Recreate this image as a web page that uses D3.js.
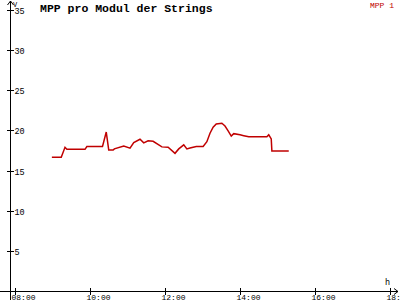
<!DOCTYPE html>
<html><head><meta charset="utf-8">
<script src="https://cdn.jsdelivr.net/npm/d3@7"></script>
<style>html,body{margin:0;padding:0;background:#fff;}svg{display:block;}</style>
</head><body>
<script>
const times = ["08:59","09:14","09:20","09:23","09:52","09:55","10:20","10:26","10:30","10:37","10:39","10:54","11:04","11:10","11:20","11:26","11:33","11:41","11:55","12:05","12:16","12:22","12:30","12:35","12:40","12:50","13:01","13:07","13:12","13:17","13:22","13:31","13:36","13:41","13:46","13:50","14:00","14:06","14:14","14:43","14:46","14:50","14:51","15:18"];
const mpp1 = [16.65,16.65,17.9,17.65,17.65,18.0,18.0,19.8,17.55,17.55,17.7,18.05,17.8,18.5,18.9,18.45,18.7,18.65,17.95,17.9,17.15,17.7,18.2,17.7,17.8,18.0,18.0,18.6,19.65,20.4,20.8,20.9,20.55,19.95,19.3,19.6,19.45,19.35,19.2,19.2,19.45,18.95,17.45,17.45];
const xTickLabels = ["08:00","10:00","12:00","14:00","16:00","18:00"];
const yTicks = [5,10,15,20,25,30,35];
const title = "MPP pro Modul der Strings";
const seriesName = "MPP 1";

const W = 400, H = 300;
const font = "'Liberation Mono','DejaVu Sans Mono',monospace";
const red = "#c00000";
const toH = s => { const [h,m] = s.split(":").map(Number); return h + m/60; };

const x = d3.scaleLinear().domain([8,18]).range([15,390]);
const y = d3.scaleLinear().domain([0,35]).range([291,10]);

const svg = d3.select("body").append("svg").attr("width",W).attr("height",H);
svg.append("rect").attr("width",W).attr("height",H).attr("fill","#fff");

// axes lines
svg.append("line").attr("x1",10.5).attr("x2",10.5).attr("y1",1).attr("y2",300).attr("stroke","#000");
svg.append("line").attr("x1",0).attr("x2",398).attr("y1",291.5).attr("y2",291.5).attr("stroke","#000");
// arrows
svg.append("path").attr("d","M7.5,5 L10.5,1 L13.5,5").attr("fill","none").attr("stroke","#000");
svg.append("path").attr("d","M394,288.5 L398,291.5 L394,294.5").attr("fill","none").attr("stroke","#000");

// y ticks
const yg = svg.append("g");
yTicks.forEach(t => {
  const yy = Math.round(y(t)) + 0.5;
  yg.append("line").attr("x1",7).attr("x2",14).attr("y1",yy).attr("y2",yy).attr("stroke","#000");
  yg.append("text").attr("x",14.5).attr("y",yy+3.5).text(t)
    .attr("font-family",font).attr("font-size",8.5).attr("fill","#000");
});
svg.append("text").attr("x",13).attr("y",7).text("V").attr("font-family",font).attr("font-size",7).attr("fill","#000");

// x ticks
xTickLabels.forEach(lbl => {
  const xx = Math.round(x(toH(lbl))) + 0.5;
  svg.append("line").attr("x1",xx).attr("x2",xx).attr("y1",288).attr("y2",295).attr("stroke","#000");
  svg.append("text").attr("x",xx-4).attr("y",299.5).text(lbl)
    .attr("font-family",font).attr("font-size",8).attr("fill","#000");
});
svg.append("text").attr("x",385).attr("y",285).text("h").attr("font-family",font).attr("font-size",8.5).attr("fill","#000");

// title & legend
svg.append("text").attr("x",40).attr("y",12).text(title)
  .attr("font-family",font).attr("font-size",11.5).attr("font-weight","bold").attr("fill","#000");
svg.append("text").attr("x",370).attr("y",8).text(seriesName)
  .attr("font-family",font).attr("font-size",8).attr("fill",red);

// line
const data = times.map((t,i) => ({h: toH(t), v: mpp1[i]}));
svg.append("path").datum(data)
  .attr("d", d3.line().x(d => x(d.h)).y(d => y(d.v)))
  .attr("fill","none").attr("stroke",red).attr("stroke-width",1.5);
</script>
</body></html>
